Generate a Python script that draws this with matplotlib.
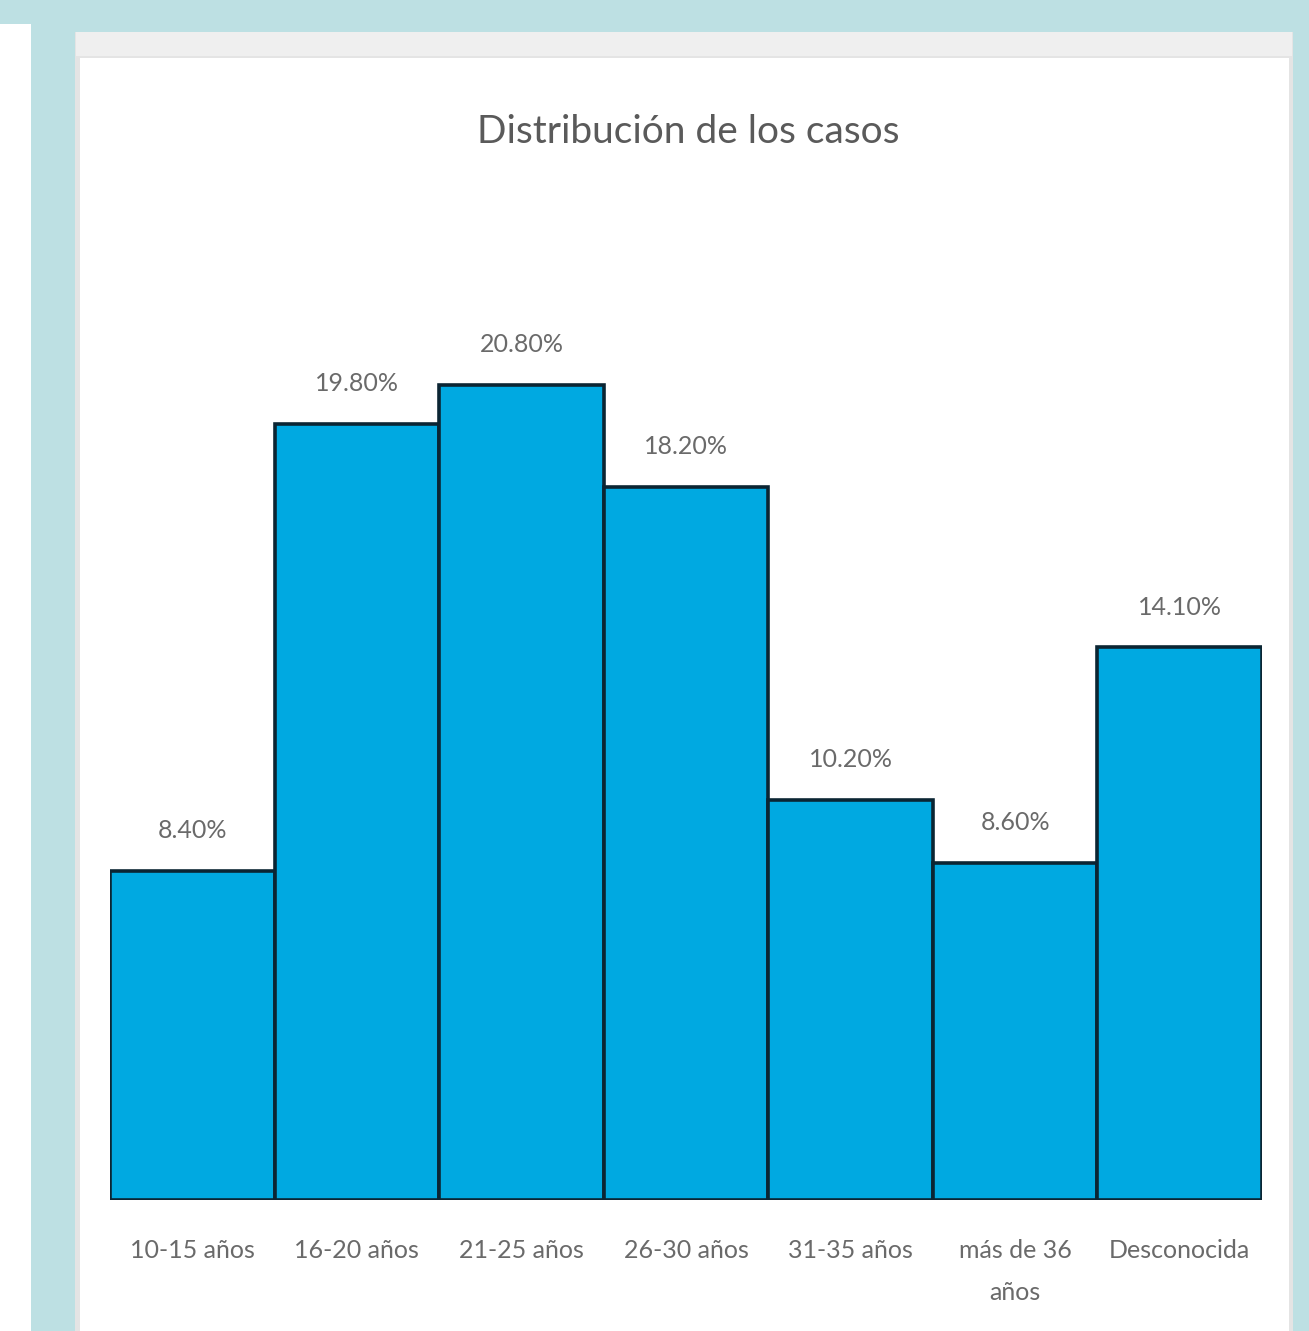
import matplotlib.pyplot as plt
from matplotlib.patches import Rectangle

categories = ['10-15 años', '16-20 años', '21-25 años', '26-30 años',
              '31-35 años', 'más de 36\naños', 'Desconocida']
values = [8.4, 19.8, 20.8, 18.2, 10.2, 8.6, 14.1]
labels = ['8.40%', '19.80%', '20.80%', '18.20%', '10.20%', '8.60%', '14.10%']

plt.rcParams['font.family'] = ['Lato', 'DejaVu Sans']

W, H = 1309, 1331
fig = plt.figure(figsize=(W / 100, H / 100), dpi=100, facecolor='#bde0e3')

def px_rect(x0, y0, x1, y1, **kw):
    # pixel box (top-left origin) -> figure fraction rectangle
    fig.patches.append(Rectangle((x0 / W, 1 - y1 / H), (x1 - x0) / W, (y1 - y0) / H,
                                 transform=fig.transFigure, zorder=-5, **kw))

px_rect(0, 24, 31, H, facecolor='white', edgecolor='none')
px_rect(75, 32, 1293, H, facecolor='#e4e4e4', edgecolor='none')
px_rect(76, 32, 1292, 56, facecolor='#efefef', edgecolor='none')
px_rect(80, 58, 1289, H, facecolor='white', edgecolor='none')

ax = fig.add_axes([110 / W, 1 - 1200 / H, 1152 / W, 980 / H])
ax.set_facecolor('none')
x = range(len(categories))
ax.bar(x, values, width=1.0, color='#00a9e1', edgecolor='#0b2533', linewidth=2.6)
for xi, v, lab in zip(x, values, labels):
    ax.annotate(lab, (xi, v), xytext=(0, 29), textcoords='offset points',
                ha='center', va='center', fontsize=18, color='#6a6a6a')

ax.set_xlim(-0.5, len(categories) - 0.5)
ax.set_ylim(0, 25)
ax.set_xticks(list(x))
ax.set_xticklabels(categories, fontsize=18, color='#6a6a6a', linespacing=2.0)
ax.tick_params(axis='x', length=0, pad=28)
ax.set_yticks([])
for s in ax.spines.values():
    s.set_visible(False)

fig.text(688 / W, 1 - 132 / H, 'Distribución de los casos', ha='center', va='center',
         fontsize=28, color='#5a5a5a')

fig.savefig('out.png', dpi=100, facecolor=fig.get_facecolor())
